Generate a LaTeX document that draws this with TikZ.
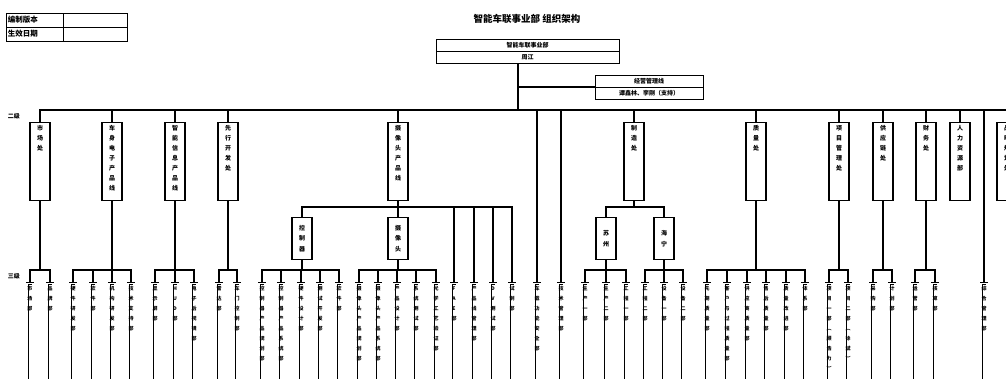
\documentclass[tikz,border=0pt]{standalone}
\usepackage{fontspec}
\setmainfont{Noto Sans CJK SC}
\usetikzlibrary{positioning}

% characters one under another
\newcommand\vchars[1]{\ifx#1\relax\else\hbox to 0pt{\hss#1\hss}\expandafter\vchars\fi}
\newcommand\vcol[2]{\vbox to #1{\baselineskip=10pt\lineskiplimit=-50pt\vskip 3pt\expandafter\vchars#2\relax\vss}}
\newcommand\vmid[1]{\vbox{\baselineskip=10.5pt\lineskiplimit=-50pt\expandafter\vchars#1\relax}}

\tikzset{
  cell/.style={draw, line width=1pt, inner sep=2pt, outer sep=0pt, minimum height=14pt, align=left, font=\fontsize{7.5}{8}\selectfont\bfseries},
  hdbox/.style={draw, line width=1pt, inner sep=0pt, outer sep=0pt, minimum height=12pt, font=\fontsize{6}{7}\selectfont\bfseries},
  lvtwo/.style={draw, line width=1.1pt, inner sep=0pt, anchor=north, minimum width=20pt, font=\fontsize{6}{6}\selectfont\bfseries},
  lvsub/.style={draw, line width=1.1pt, inner sep=0pt, anchor=north, minimum width=20pt, minimum height=42pt, font=\fontsize{6}{6}\selectfont\bfseries},
  lvthree/.style={draw, line width=0.6pt, double, double distance=1.6pt, inner sep=0pt, anchor=north, minimum width=5.8pt, font=\fontsize{5}{5}\selectfont\bfseries},
  lvlabel/.style={inner sep=0pt, font=\fontsize{6}{7}\selectfont\bfseries}
}

\begin{document}
\begin{tikzpicture}[x=1pt, y=-1pt, line width=1.1pt]
\useasboundingbox (0,0) rectangle (1006,378);
\clip (0,0) rectangle (1006,378);

% title and version table
\node[font=\fontsize{9.5}{10}\selectfont\bfseries] (title) at (527,19) {智能车联事业部 组织架构};
\node[cell, anchor=north west, text width=53pt] (bzbb) at (6,13) {编制版本};
\node[cell, anchor=north west, text width=60pt] (bzbbv) at (63,13) {};
\node[cell, anchor=north west, text width=53pt] (sxrq) at (6,27) {生效日期};
\node[cell, anchor=north west, text width=60pt] (sxrqv) at (63,27) {};

% head and staff
\node[hdbox, minimum width=183pt, anchor=north] (hq) at (527.5,39) {智能车联事业部};
\node[hdbox, minimum width=183pt, below=0pt of hq] (hqname) {周江};
\node[hdbox, minimum width=108pt, anchor=north] (asst) at (649,75) {经营管理线};
\node[hdbox, minimum width=108pt, below=0pt of asst] (asstname) {谭鑫林、李刚（支持）};
\coordinate (bus) at (518,110);
\draw (hqname.south -| bus) -- (bus);
\draw (asst.south west) -| (bus);

\node[lvlabel] (erji) at (14,116) {二级};
\node[lvlabel] (sanji) at (14,276) {三级};

% second level
\foreach \x/\n/\lbl in {40/mkt/市场处, 112/bsp/车身电子产品线, 175/iip/智能信息产品线, 228/adv/先行开发处,
  398/cam/摄像头产品线, 634/mfg/制造处, 756/qa/质量处, 839/pmo/项目管理处, 883/scm/供应链处,
  926/fin/财务处, 960/hr/人力资源部, 1007/far/战略规划处}
  \node[lvtwo] (\n) at (\x,122) {\vcol{78pt}{\lbl}};
\draw (mkt.north) |- (bus) -| (far.north);
\foreach \n in {bsp,iip,adv,cam,mfg,qa,pmo,scm,fin,hr}
  \draw (\n.north) -- (\n.north |- bus);

% sub units
\node[lvsub] (ctl) at (302,217) {\vmid{控制器}};
\node[lvsub] (camu) at (398,217) {\vmid{摄像头}};
\node[lvsub] (suz) at (606,217) {\vmid{苏州}};
\node[lvsub] (hn) at (664,217) {\vmid{海宁}};

% third level
\foreach \x/\n/\lbl in {30/a1/市场部, 50/a2/品牌部,
  73/b1/硬件研发部, 93/b2/软件部, 112/b3/机构研发部, 131/b4/技术支持部,
  155/c1/显示屏部, 175/c2/HUD部, 194/c3/电子后视镜部,
  219/d1/雷达部, 237/d2/车门控制部,
  262/e1/控制器产品规划部, 281/e2/控制器产品系统部, 301/e3/硬件设计部, 320/e4/测试开发部, 339/e5/软件部,
  359/f1/摄像头产品规划部, 378/f2/摄像头产品系统部, 397/f3/产品设计部, 416/f4/系统测试部, 436/f5/光学工艺验证部,
  454/x1/FAE部, 474/x2/产品线管理部, 493/x3/DV测试部, 512/x4/试制部,
  537/y1/车载功能安全部, 561/y2/技术管理部,
  585/g1/生产一部, 606/g2/生产二部, 626/g3/工程一部,
  645/h1/工程二部, 664/h2/设备一部, 683/h3/设备二部,
  707/q1/先期质量部, 727/q2/客户与过程质量部, 747/q3/供应商质量部, 766/q4/售后质量部, 786/q5/质量改进部, 805/q6/体系部,
  829/p1/项目一部︵顾浩力︶, 848/p2/项目二部︵徐斌︶,
  873/s1/采购部, 892/s2/计划部, 915/r1/运营部, 935/r2/核算部,
  984/y3/综合管理部}
  \node[lvthree] (\n) at (\x,283) {\vcol{110pt}{\lbl}};

% branches to third level
\foreach \p/\f/\l in {mkt/a1/a2, bsp/b1/b4, iip/c1/c3, adv/d1/d2, ctl/e1/e5, camu/f1/f5,
  suz/g1/g3, hn/h1/h3, qa/q1/q6, pmo/p1/p2, scm/s1/s2, fin/r1/r2}
{
  \draw (\p.south) -- (\p.south |- 0,270);
  \draw (\f.north) |- (\l.north |- 0,270) -- (\l.north);
}
\foreach \n in {b2,b3,c2,e2,e3,e4,f2,f3,f4,g2,h2,q2,q3,q4,q5}
  \draw (\n.north) -- (\n.north |- 0,270);

\draw (ctl.north) |- (x4.north |- 0,207) -- (x4.north);
\draw (cam.south) -- (camu.north);
\foreach \n in {x1,x2,x3}
  \draw (\n.north) -- (\n.north |- 0,207);
\draw (mfg.south) -- (mfg.south |- 0,207);
\draw (suz.north) |- (hn.north |- 0,207) -- (hn.north);
\foreach \n in {y1,y2,y3}
  \draw (\n.north) -- (\n.north |- bus);

\end{tikzpicture}
\end{document}
